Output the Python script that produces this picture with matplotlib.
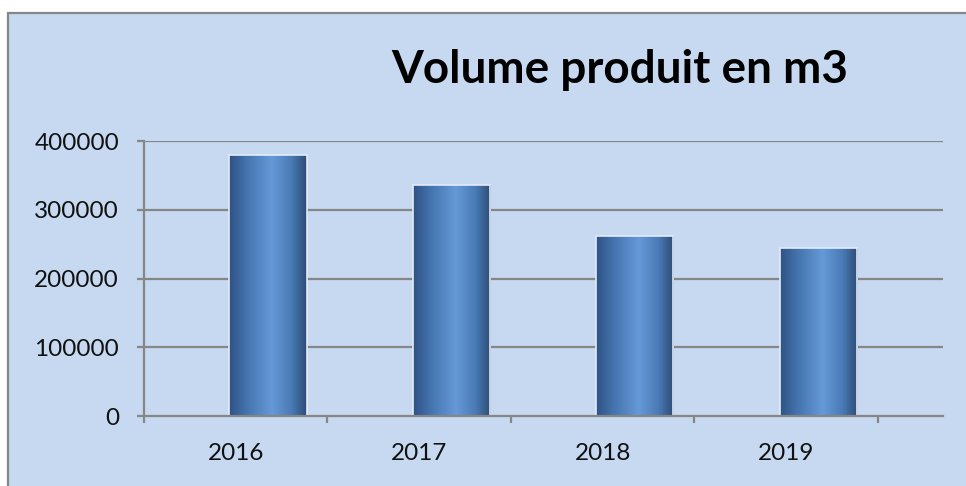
import numpy as np
import matplotlib.pyplot as plt
from matplotlib.patches import Rectangle
from matplotlib.colors import LinearSegmentedColormap

years = ["2016", "2017", "2018", "2019"]
volumes = [380000, 336000, 262000, 245000]
y_ticks = [0, 100000, 200000, 300000, 400000]
title = "Volume produit en m3"

bg = "#C6D9F0"
grid_gray = "#868686"

plt.rcParams['font.family'] = ['Lato', 'DejaVu Sans']

fig = plt.figure(figsize=(9.66, 4.86), dpi=100)
fig.patch.set_facecolor("white")
# chart area with grey border (left/top visible, rest runs off the image)
fig.patches.append(Rectangle((8 / 966, -0.05), 1.0, 1 - 13 / 486 + 0.05,
                             transform=fig.transFigure, facecolor=bg,
                             edgecolor=grid_gray, linewidth=1.6, zorder=-10))

ax = fig.add_axes([144 / 966, 1 - 416 / 486, (943 - 144) / 966, (416 - 141) / 486])
ax.set_facecolor("none")
ax.set_zorder(1)

x = np.arange(len(years))
width = 0.42
x_left, x_right = -0.676, 3.68

# gridlines
for t in y_ticks[1:]:
    ax.axhline(t, color=grid_gray, lw=1.6, zorder=1)

# bars with cylinder-like horizontal gradient
cmap = LinearSegmentedColormap.from_list(
    "cyl", [(0, "#2F5284"), (0.25, "#4777B2"), (0.55, "#6699D8"),
            (0.8, "#4A7BB6"), (1, "#2C4B74")])
grad = np.linspace(0, 1, 256).reshape(1, -1)
bars = ax.bar(x, volumes, width=width, facecolor="none",
              edgecolor="#E4ECF6", linewidth=1.2, zorder=3)
for b in bars:
    im = ax.imshow(grad, cmap=cmap, aspect="auto", zorder=2,
                   extent=[b.get_x(), b.get_x() + b.get_width(), 0, b.get_height()])
    im.set_clip_path(b)

ax.set_xlim(x_left, x_right)
ax.set_ylim(0, 400000)

for s in ["top", "right"]:
    ax.spines[s].set_visible(False)
for s in ["left", "bottom"]:
    ax.spines[s].set_color(grid_gray)
    ax.spines[s].set_linewidth(1.6)
    ax.spines[s].set_zorder(4)

ax.set_yticks(y_ticks)
ax.set_yticklabels([str(t) for t in y_ticks])
ax.tick_params(axis="y", length=5, width=1.6, color=grid_gray,
               labelsize=17.5, labelcolor="#111111", pad=13)

# category boundary ticks, labels centred between them
bounds = [x_left + i * (x[1] - x[0]) for i in range(len(years) + 1)]
ax.set_xticks(bounds)
ax.set_xticklabels([])
ax.tick_params(axis="x", length=5, width=1.6, color=grid_gray)
for i, yr in enumerate(years):
    ax.text((bounds[i] + bounds[i + 1]) / 2, -0.135, yr,
            transform=ax.get_xaxis_transform(), ha="center", va="center",
            fontsize=17.5, color="#111111")

fig.text(620 / 966, 1 - 70 / 486, title, ha="center", va="center",
         fontsize=33, fontweight="bold", color="black")

fig.savefig("out.png", dpi=100)
